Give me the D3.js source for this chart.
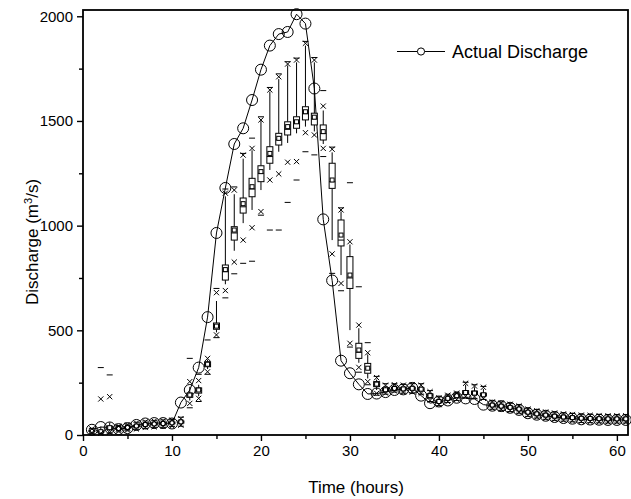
<!DOCTYPE html>
<html><head><meta charset="utf-8">
<script src="https://cdn.jsdelivr.net/npm/d3@7"></script>
<style>body{margin:0;background:#fff}svg{display:block}text{font-family:"Liberation Sans",Arial,sans-serif;fill:#000}</style>
</head><body><svg id="c" width="631" height="499"></svg>
<script>
const hours = [1,2,3,4,5,6,7,8,9,10,11,12,13,14,15,16,17,18,19,20,21,22,23,24,25,26,27,28,29,30,31,32,33,34,35,36,37,38,39,40,41,42,43,44,45,46,47,48,49,50,51,52,53,54,55,56,57,58,59,60,61];
const actual = [25,38,36,28,33,48,55,57,57,55,155,215,322,563,965,1180,1390,1465,1600,1745,1860,1915,1925,2010,1965,1655,1030,738,355,295,242,196,198,205,215,218,225,188,152,160,165,178,175,172,145,140,138,130,120,104,97,92,86,81,78,75,74,73,72,72,72];
const boxMin  = [8,5,8,15,20,25,32,35,37,40,42,130,160,290,465,655,770,820,830,1050,979,979,1111,1218,1353,1338,1330,772,689,420,300,240,190,195,205,200,200,195,160,140,155,165,180,175,170,123,118,112,104,89,81,75,70,66,63,60,59,58,57,57,57];
const boxP1   = [11,8,12,19,24,29,36,39,41,44,47,151,175,302,478,690,826,931,990,1067,1218,1247,1303,1306,1444,1433,1369,865,724,438,323,255,199,200,210,205,205,199,165,145,159,170,185,182,175,128,123,117,109,94,86,80,75,71,68,65,64,63,62,62,62];
const boxP5   = [14,10,18,23,28,34,41,44,46,49,52,165,185,315,490,720,880,1012,1075,1170,1266,1353,1395,1441,1473,1450,1390,931,764,501,345,270,215,205,214,210,212,205,172,150,165,176,190,188,180,133,128,122,114,99,91,85,80,76,73,70,69,68,67,67,67];
const boxQ1   = [17,12,25,27,32,39,46,49,51,54,57,180,200,326,505,740,931,1060,1138,1210,1298,1385,1433,1465,1505,1481,1409,1178,903,700,366,295,231,210,218,215,218,212,180,155,170,182,195,193,186,138,133,127,119,104,96,90,85,81,78,75,74,73,72,72,72];
const boxMed  = [20,15,32,30,36,43,50,53,55,58,62,190,212,335,515,780,965,1090,1175,1250,1330,1410,1460,1490,1535,1510,1440,1210,931,750,395,315,240,215,222,220,222,218,188,160,175,188,203,200,192,143,138,132,124,109,101,95,90,86,83,80,79,78,77,77,77];
const boxMean = [20,16,35,31,36,43,50,53,55,58,63,191,215,338,520,790,979,1105,1186,1258,1345,1417,1473,1496,1544,1518,1449,1218,955,764,406,319,243,216,222,220,223,219,188,160,175,188,203,200,192,143,138,132,124,109,101,95,90,86,83,80,79,78,77,77,77];
const boxQ3   = [23,20,42,34,40,47,54,57,59,62,67,200,225,350,535,812,995,1132,1226,1286,1377,1441,1496,1520,1568,1537,1481,1298,1027,852,438,342,255,222,228,226,228,225,196,166,180,195,212,210,200,148,143,137,129,114,106,100,95,91,88,85,84,83,82,82,82];
const boxP95  = [26,40,60,38,44,52,59,62,64,67,72,230,240,360,640,1140,1150,1320,1360,1500,1640,1700,1765,1780,1860,1780,1550,1350,1068,910,510,385,265,230,235,232,235,232,202,172,185,198,240,228,220,153,148,142,134,119,111,105,100,96,93,90,89,88,87,87,87];
const boxP99  = [29,172,183,42,48,57,63,66,68,71,78,255,260,366,680,1155,1170,1337,1369,1505,1648,1711,1772,1791,1871,1791,1571,1365,1075,923,525,393,274,238,240,238,240,238,207,178,190,200,247,234,228,158,153,147,139,124,116,110,105,101,98,95,94,93,92,92,92];
const boxMax  = [32,322,287,45,52,61,67,70,72,75,85,366,290,454,700,1175,1185,1345,1418,1520,1660,1725,1783,1800,1880,1803,1645,1375,1085,1205,708,441,280,245,245,242,245,245,212,182,195,205,252,240,232,163,158,152,144,129,121,115,110,106,103,100,99,98,97,97,97];
const xTicks = [0,10,20,30,40,50,60];
const yTicks = [0,500,1000,1500,2000];
const seriesName = "Actual Discharge";

const svg = d3.select("#c");
const x = d3.scaleLinear().domain([0,61.25]).range([83,628]);
const y = d3.scaleLinear().domain([0,2030]).range([435,10]);

// frame
svg.append("rect").attr("x",83).attr("y",10).attr("width",545).attr("height",425)
  .attr("fill","none").attr("stroke","#000").attr("stroke-width",1.8);

// axes
const xAxis = d3.axisBottom(x).tickValues(xTicks).tickSize(6).tickPadding(4).tickFormat(d3.format("d"));
svg.append("g").attr("transform","translate(0,435)").call(xAxis);
const xMinor = d3.axisBottom(x).tickValues([5,15,25,35,45,55]).tickSize(4).tickFormat("");
svg.append("g").attr("transform","translate(0,435)").call(xMinor);
const yAxis = d3.axisLeft(y).tickValues(yTicks).tickSize(6).tickPadding(4).tickFormat(d3.format("d"));
svg.append("g").attr("transform","translate(83,0)").call(yAxis);
const yMinor = d3.axisLeft(y).tickValues([250,750,1250,1750]).tickSize(4).tickFormat("");
svg.append("g").attr("transform","translate(83,0)").call(yMinor);
svg.selectAll(".domain").remove();
svg.selectAll(".tick line").attr("stroke","#000").attr("stroke-width",1.4);
svg.selectAll(".tick text").style("font-size","15px").style("font-family","Liberation Sans, Arial, sans-serif");

// axis titles
svg.append("text").attr("x",356).attr("y",493).attr("text-anchor","middle").style("font-size","17px").text("Time (hours)");
const yt = svg.append("text").attr("transform","translate(38,242) rotate(-90)").attr("text-anchor","middle").style("font-size","17px");
yt.append("tspan").text("Discharge (m");
yt.append("tspan").attr("dy",-6).style("font-size","11px").text("3");
yt.append("tspan").attr("dy",6).text("/s)");

// actual line + circles
const line = d3.line().x((d,i)=>x(hours[i])).y(d=>y(d));
svg.append("path").datum(actual).attr("d",line).attr("fill","none").attr("stroke","#000").attr("stroke-width",1);
svg.append("g").selectAll("circle").data(actual).join("circle")
  .attr("cx",(d,i)=>x(hours[i])).attr("cy",d=>y(d)).attr("r",5.5)
  .attr("fill","none").attr("stroke","#000").attr("stroke-width",1);

// box plots
const bw = 6;
const g = svg.append("g").attr("stroke","#000").attr("stroke-width",1);
hours.forEach((h,i)=>{
  const cx = x(h);
  g.append("line").attr("x1",cx).attr("x2",cx).attr("y1",y(boxP5[i])).attr("y2",y(boxQ1[i]));
  g.append("line").attr("x1",cx).attr("x2",cx).attr("y1",y(boxQ3[i])).attr("y2",y(boxP95[i]));
  g.append("rect").attr("x",cx-bw/2).attr("width",bw).attr("y",y(boxQ3[i])).attr("height",Math.max(1,y(boxQ1[i])-y(boxQ3[i])))
    .attr("fill","#fff");
  g.append("line").attr("x1",cx-bw/2).attr("x2",cx+bw/2).attr("y1",y(boxMed[i])).attr("y2",y(boxMed[i]));
  g.append("rect").attr("x",cx-2).attr("y",y(boxMean[i])-2).attr("width",4).attr("height",4).attr("fill","#fff");
  [boxP1[i],boxP99[i]].forEach(v=>{
    const yy=y(v), s=2.6;
    g.append("path").attr("d",`M${cx-s},${yy-s}L${cx+s},${yy+s}M${cx-s},${yy+s}L${cx+s},${yy-s}`);
  });
  [boxMin[i],boxMax[i]].forEach(v=>{
    g.append("line").attr("x1",cx-3).attr("x2",cx+3).attr("y1",y(v)).attr("y2",y(v));
  });
});

// legend
const lg = svg.append("g");
lg.append("line").attr("x1",397).attr("x2",445).attr("y1",51.5).attr("y2",51.5).attr("stroke","#000");
lg.append("circle").attr("cx",421).attr("cy",51.5).attr("r",3.6).attr("fill","#fff").attr("stroke","#000");
lg.append("text").attr("x",452).attr("y",57.5).style("font-size","18px").text(seriesName);
</script></body></html>
